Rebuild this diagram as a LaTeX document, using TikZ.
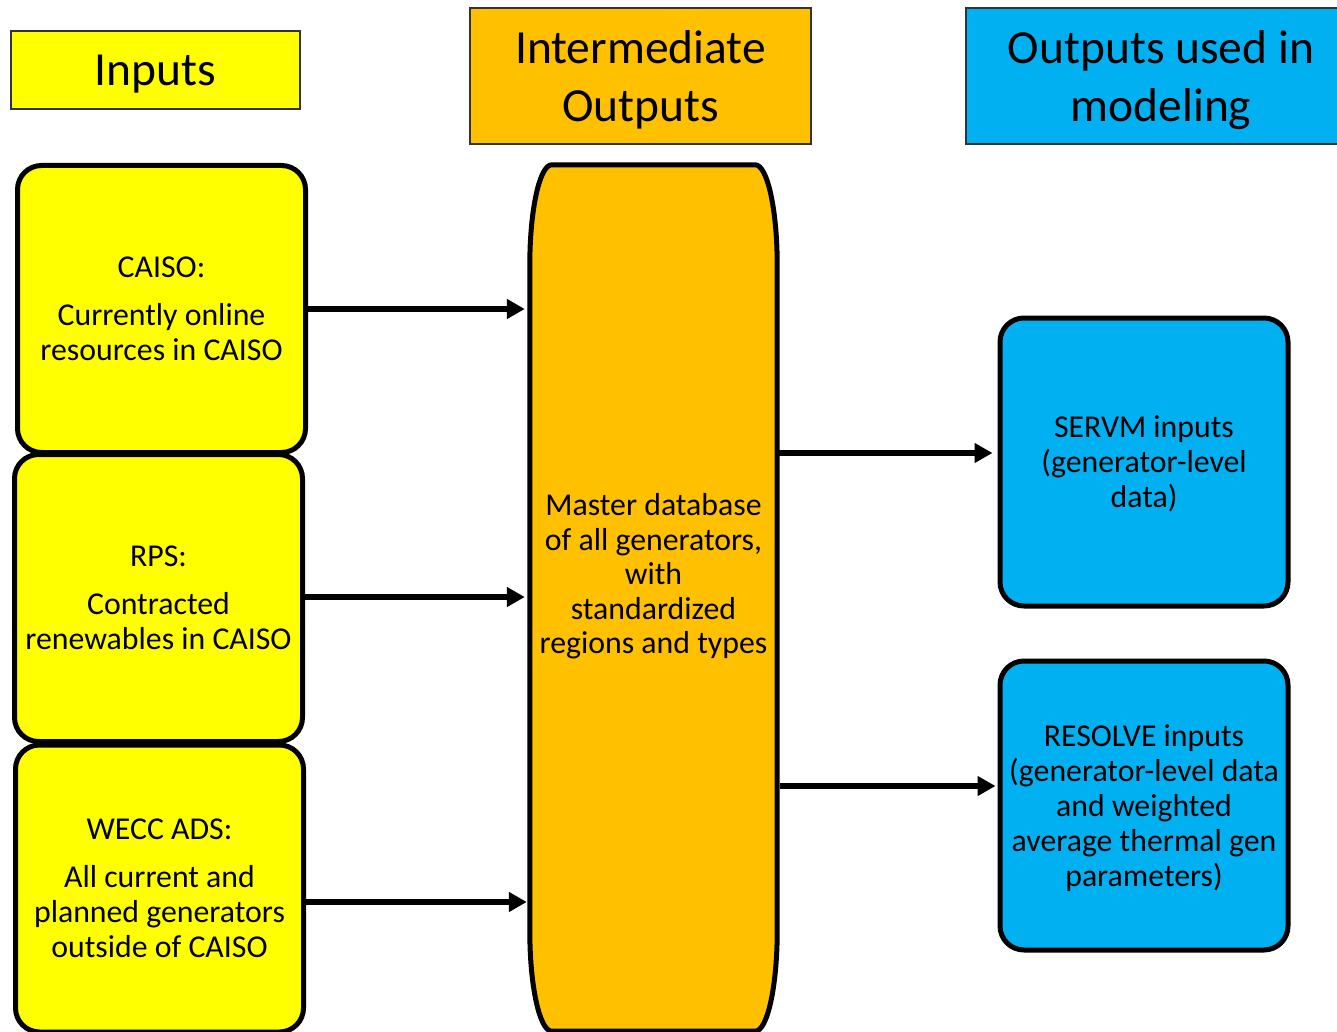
\documentclass[tikz,border=0pt]{standalone}
\usepackage{fontspec}
\setmainfont{Carlito}
\usetikzlibrary{arrows.meta}
\definecolor{cyel}{HTML}{FFFF00}
\definecolor{corg}{HTML}{FFC000}
\definecolor{cblu}{HTML}{00B0F0}
\begin{document}
\begin{tikzpicture}[x=1pt,y=-1pt,
  header/.style={draw=black!80, line width=1.5pt, inner sep=0pt, align=center,
    font=\fontsize{47.5}{58}\selectfont},
  inbox/.style={draw=black, line width=5pt, fill=cyel, rounded corners=24pt,
    inner sep=0pt, align=center, font=\fontsize{31.8}{35}\selectfont,
    minimum width=288pt, minimum height=287pt},
  outbox/.style={draw=black, line width=5pt, fill=cblu, rounded corners=24pt,
    inner sep=0pt, align=center, font=\fontsize{31.8}{35}\selectfont,
    minimum width=288pt, minimum height=288pt},
  arr/.style={line width=5.5pt, -{Triangle[length=18pt,width=19pt]}}]
\useasboundingbox (0,0) rectangle (1337,1032);
\begin{scope}
\clip (0,0) rectangle (1337,1032);
% headers
\node[header, fill=cyel, minimum width=289pt, minimum height=78pt] (hin) at (155.5,70) {};
\node[font=\fontsize{47.5}{58}\selectfont, inner sep=0pt] (hintxt) at (155.5,74) {Inputs};
\node[header, fill=corg, minimum width=341pt, minimum height=136pt] (hint) at (640.5,76) {};
\node[align=center, font=\fontsize{47.5}{58}\selectfont, inner sep=0pt] (hinttxt) at (640.5,80) {Intermediate\\Outputs};
\node[header, fill=cblu, minimum width=390pt, minimum height=136pt] (hout) at (1161,76) {};
\node[align=center, font=\fontsize{47.5}{58}\selectfont, inner sep=0pt] (houttxt) at (1161,80) {Outputs used in\\modeling};
% input boxes
\node[inbox] (caiso) at (161.5,309) {CAISO:\\[13pt]Currently online\\resources in CAISO};
\node[inbox] (rps) at (158.5,598) {RPS:\\[13pt]Contracted\\renewables in CAISO};
\node[inbox, minimum height=287pt] (wecc) at (159.5,888.5) {WECC ADS:\\[13pt]All current and\\planned generators\\outside of CAISO};
% master
\node[minimum width=247pt, minimum height=866pt, inner sep=0pt] (master) at (653.5,598) {};
\draw[line width=5pt, fill=corg]
  ([xshift=22pt]master.north west) -- ([xshift=-22pt]master.north east)
  arc[start angle=90, end angle=0, x radius=22pt, y radius=100pt]
  -- ([yshift=100pt]master.south east)
  arc[start angle=0, end angle=-90, x radius=22pt, y radius=100pt]
  -- ([xshift=22pt]master.south west)
  arc[start angle=270, end angle=180, x radius=22pt, y radius=100pt]
  -- ([yshift=-100pt]master.north west)
  arc[start angle=180, end angle=90, x radius=22pt, y radius=100pt] -- cycle;
\node[align=center, font=\fontsize{31.8}{34.5}\selectfont, inner sep=0pt] (mtext) at (653.5,576.5)
  {Master database\\of all generators,\\with\\standardized\\regions and types};
% outputs
\node[outbox] (servm) at (1144,462) {};
\node[align=center, font=\fontsize{31.8}{35}\selectfont, inner sep=0pt] (servmtxt) at (1144,464) {SERVM inputs\\(generator-level\\data)};
\node[outbox, minimum height=289pt] (resolve) at (1144,805.5) {};
\node[align=center, font=\fontsize{31.8}{35}\selectfont, inner sep=0pt] (resolvetxt) at (1144,808) {RESOLVE inputs\\(generator-level data\\and weighted\\average thermal gen\\parameters)};
% arrows
\coordinate (a2) at (0,597);
\coordinate (a3) at (0,902);
\coordinate (b1) at (0,453);
\coordinate (b2) at (0,786);
\draw[arr, shorten >=5pt] (caiso.east) -- (caiso.east -| master.west);
\draw[arr, shorten >=5pt] (rps.east |- a2) -- (a2 -| master.west);
\draw[arr, shorten >=3pt] (wecc.east |- a3) -- (a3 -| master.west);
\draw[arr, shorten >=5pt] (master.east |- b1) -- (b1 -| servm.west);
\draw[arr, shorten >=2pt] ([xshift=3pt]master.east |- b2) -- (b2 -| resolve.west);
\end{scope}
\end{tikzpicture}
\end{document}
